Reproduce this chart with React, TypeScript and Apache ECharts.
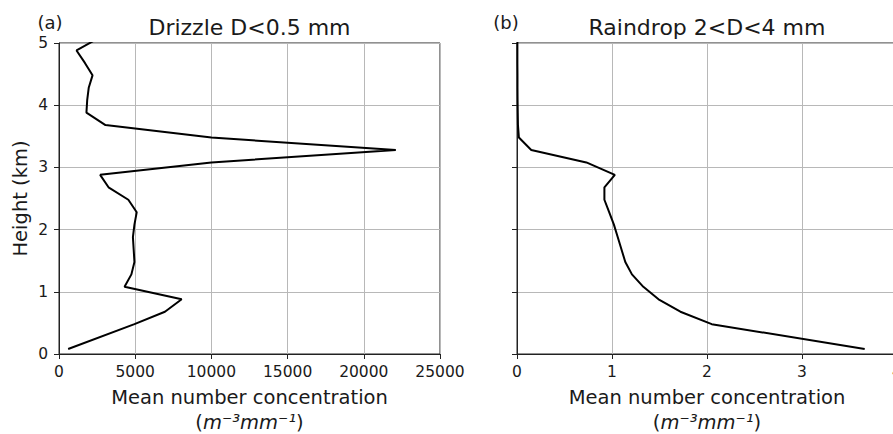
import React, { useEffect, useRef } from "react";
import * as echarts from "echarts";

// Heights (km) and mean number concentrations (m^-3 mm^-1)
const drizzleHeights = [0.08, 0.48, 0.68, 0.88, 1.08, 1.28, 1.48, 1.68, 1.88, 2.08, 2.28, 2.48, 2.68, 2.88, 3.08, 3.28, 3.48, 3.68, 3.88, 4.08, 4.28, 4.48, 4.68, 4.88, 5.08];
const drizzleValues = [600, 4950, 6950, 8050, 4300, 4750, 4950, 4900, 4850, 4950, 5100, 4550, 3250, 2700, 10000, 22100, 10000, 3050, 1800, 1850, 1950, 2200, 1700, 1150, 2600];

const rainHeights = [0.08, 0.48, 0.68, 0.88, 1.08, 1.28, 1.48, 1.68, 1.88, 2.08, 2.28, 2.48, 2.68, 2.88, 3.08, 3.28, 3.48, 3.68, 3.88, 4.08, 4.28, 4.48, 4.68, 4.88, 5.08];
const rainValues = [3.66, 2.05, 1.72, 1.49, 1.33, 1.21, 1.14, 1.1, 1.06, 1.02, 0.97, 0.92, 0.92, 1.03, 0.73, 0.15, 0.02, 0.01, 0.008, 0.006, 0.005, 0.005, 0.004, 0.004, 0.004];

const heightTicks = [0, 1, 2, 3, 4, 5];
const drizzleTicks = [0, 5000, 10000, 15000, 20000, 25000];
const rainTicks = [0, 1, 2, 3, 4];

const FONT = "DejaVu Sans";
const TEXT = "#1a1a1a";

export default function App() {
  const ref = useRef<HTMLDivElement>(null);
  useEffect(() => {
    if (!ref.current) return;
    const chart = echarts.init(ref.current, null, { renderer: "svg" });
    const plainFmt = (v: number) => String(v);
    const axisCommon = {
      type: "value" as const,
      axisLine: { show: true, lineStyle: { color: "#222", width: 1 } },
      axisTick: { show: true, inside: false, length: 5, lineStyle: { color: "#222", width: 1 } },
      splitLine: { show: true, lineStyle: { color: "#b8b8b8", width: 1 } },
      axisLabel: { color: TEXT, fontFamily: FONT, fontSize: 15.5, formatter: plainFmt },
    };
    const labelStyle = { fill: TEXT, fontFamily: FONT };
    const unitRich = {
      p: { fontSize: 19.5, fontFamily: FONT, color: TEXT },
      i: { fontSize: 19.5, fontStyle: "italic", fontFamily: FONT, color: TEXT },
    };
    chart.setOption({
      animation: false,
      backgroundColor: "#fff",
      grid: [
        { left: 59, width: 381, top: 43, bottom: 80, show: true, borderColor: "#222", borderWidth: 1, backgroundColor: "transparent", outerBoundsMode: "none", containLabel: false },
        { left: 517, width: 380, top: 43, bottom: 80, show: true, borderColor: "#222", borderWidth: 1, backgroundColor: "transparent", outerBoundsMode: "none", containLabel: false },
      ],
      xAxis: [
        {
          ...axisCommon,
          gridIndex: 0,
          min: drizzleTicks[0],
          max: drizzleTicks[drizzleTicks.length - 1],
          interval: drizzleTicks[1] - drizzleTicks[0],
          axisLabel: { ...axisCommon.axisLabel, margin: 10, showMaxLabel: true },
        },
        {
          ...axisCommon,
          gridIndex: 1,
          min: rainTicks[0],
          max: rainTicks[rainTicks.length - 1],
          interval: rainTicks[1] - rainTicks[0],
          axisLabel: { ...axisCommon.axisLabel, margin: 10, showMaxLabel: true },
        },
      ],
      yAxis: [
        {
          ...axisCommon,
          gridIndex: 0,
          min: heightTicks[0],
          max: heightTicks[heightTicks.length - 1],
          interval: 1,
          axisLabel: { ...axisCommon.axisLabel, margin: 11 },
        },
        {
          ...axisCommon,
          gridIndex: 1,
          min: heightTicks[0],
          max: heightTicks[heightTicks.length - 1],
          interval: 1,
          axisLabel: { show: false },
        },
      ],
      series: [
        {
          type: "line",
          xAxisIndex: 0,
          yAxisIndex: 0,
          data: drizzleHeights.map((h, i) => [drizzleValues[i], h]),
          showSymbol: false,
          clip: true,
          lineStyle: { color: "#000", width: 2 },
        },
        {
          type: "line",
          xAxisIndex: 1,
          yAxisIndex: 1,
          data: rainHeights.map((h, i) => [rainValues[i], h]),
          showSymbol: false,
          clip: true,
          lineStyle: { color: "#000", width: 2 },
        },
      ],
      graphic: [
        { type: "text", x: 50, y: 22, style: { ...labelStyle, text: "(a)", fontSize: 18, textAlign: "center", textVerticalAlign: "middle" } },
        { type: "text", x: 506, y: 22, style: { ...labelStyle, text: "(b)", fontSize: 18, textAlign: "center", textVerticalAlign: "middle" } },
        { type: "text", x: 249.5, y: 27, style: { ...labelStyle, text: "Drizzle D<0.5 mm", fontSize: 22, textAlign: "center", textVerticalAlign: "middle" } },
        { type: "text", x: 707, y: 27, style: { ...labelStyle, text: "Raindrop 2<D<4 mm", fontSize: 22, textAlign: "center", textVerticalAlign: "middle" } },
        { type: "text", x: 20, y: 198.5, rotation: Math.PI / 2, style: { ...labelStyle, text: "Height (km)", fontSize: 19.5, textAlign: "center", textVerticalAlign: "middle" } },
        { type: "text", x: 249.5, y: 397, style: { ...labelStyle, text: "Mean number concentration", fontSize: 19.5, textAlign: "center", textVerticalAlign: "middle" } },
        { type: "text", x: 707, y: 397, style: { ...labelStyle, text: "Mean number concentration", fontSize: 19.5, textAlign: "center", textVerticalAlign: "middle" } },
        {
          type: "text", x: 249.5, y: 422,
          style: { ...labelStyle, text: "{p|(}{i|m⁻³mm⁻¹}{p|)}", textAlign: "center", textVerticalAlign: "middle", rich: unitRich },
        },
        {
          type: "text", x: 707, y: 422,
          style: { ...labelStyle, text: "{p|(}{i|m⁻³mm⁻¹}{p|)}", textAlign: "center", textVerticalAlign: "middle", rich: unitRich },
        },
      ],
    });
    return () => chart.dispose();
  }, []);
  return <div ref={ref} style={{ width: 893, height: 434, position: "fixed", left: 0, top: 0 }} />;
}
